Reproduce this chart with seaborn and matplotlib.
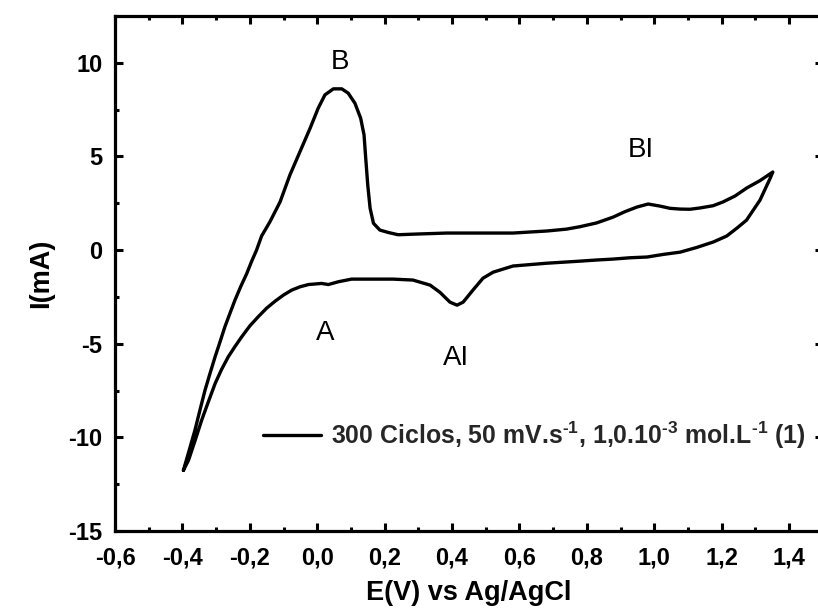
import matplotlib
matplotlib.use("Agg")
import matplotlib.pyplot as plt
import seaborn as sns
import pandas as pd
from matplotlib.ticker import FixedLocator, MultipleLocator

# ---- data (cyclic voltammogram, one full cycle) ----
E_forward = [-0.397, -0.380, -0.363, -0.348, -0.333, -0.318, -0.303, -0.288,
             -0.274, -0.259, -0.244, -0.227, -0.209, -0.195, -0.180, -0.165,
             -0.140, -0.110, -0.081, -0.051, -0.021, 0.003, 0.023, 0.048,
             0.073, 0.092, 0.112, 0.129, 0.139, 0.144, 0.150, 0.157, 0.167,
             0.186, 0.211, 0.240, 0.300, 0.385, 0.483, 0.581, 0.682, 0.740,
             0.780, 0.829, 0.878, 0.913, 0.949, 0.982, 1.017, 1.047, 1.077,
             1.106, 1.136, 1.175, 1.204, 1.240, 1.275, 1.314, 1.352]
I_forward = [-11.76, -10.70, -9.63, -8.55, -7.49, -6.58, -5.70, -4.88,
             -4.10, -3.38, -2.67, -1.95, -1.25, -0.62, 0.00, 0.75,
             1.52, 2.58, 4.01, 5.26, 6.51, 7.58, 8.29, 8.61,
             8.61, 8.38, 7.84, 7.04, 6.15, 4.90, 3.48, 2.23, 1.43,
             1.07, 0.94, 0.82, 0.86, 0.91, 0.91, 0.91, 1.02, 1.12,
             1.25, 1.45, 1.76, 2.05, 2.30, 2.46, 2.35, 2.23, 2.19,
             2.18, 2.25, 2.37, 2.57, 2.89, 3.32, 3.71, 4.17]

E_reverse = [1.344, 1.314, 1.274, 1.246, 1.215, 1.175, 1.126, 1.077, 1.027,
             0.979, 0.928, 0.878, 0.829, 0.780, 0.682, 0.581, 0.522, 0.492,
             0.462, 0.433, 0.415, 0.394, 0.364, 0.335, 0.284, 0.225, 0.172,
             0.102, 0.063, 0.033, 0.013, -0.026, -0.051, -0.076, -0.100,
             -0.125, -0.150, -0.175, -0.200, -0.224, -0.244, -0.264, -0.284,
             -0.303, -0.323, -0.343, -0.362, -0.382, -0.397]
I_reverse = [3.83, 2.67, 1.60, 1.18, 0.75, 0.43, 0.14, -0.11, -0.23,
             -0.37, -0.41, -0.48, -0.53, -0.59, -0.70, -0.85, -1.18, -1.50,
             -2.14, -2.78, -2.94, -2.78, -2.25, -1.87, -1.60, -1.55, -1.55,
             -1.55, -1.69, -1.84, -1.78, -1.84, -1.96, -2.14, -2.40,
             -2.73, -3.10, -3.56, -4.05, -4.63, -5.15, -5.70, -6.38,
             -7.13, -8.10, -9.09, -10.15, -11.23, -11.76]

x_ticks = [-0.6, -0.4, -0.2, 0.0, 0.2, 0.4, 0.6, 0.8, 1.0, 1.2, 1.4]
x_tick_labels = ["-0,6", "-0,4", "-0,2", "0,0", "0,2", "0,4", "0,6", "0,8",
                 "1,0", "1,2", "1,4"]
y_ticks = [-15, -10, -5, 0, 5, 10]
y_tick_labels = ["-15", "-10", "-5", "0", "5", "10"]

peak_labels = ["B", "BI", "A", "AI"]
peak_E = [0.068, 0.961, 0.023, 0.412]
peak_I = [10.05, 5.35, -4.44, -5.78]

series_label = (r"300 Ciclos, 50 mV.s$^{\text{-1}}$, 1,0.10$^{\text{-3}}$ "
                r"mol.L$^{\text{-1}}$ (1)")
x_label = "E(V) vs Ag/AgCl"
y_label = "I(mA)"

# ---- style ----
sns.set_theme(style="ticks")
plt.rcParams["font.family"] = ["Liberation Sans", "DejaVu Sans"]
plt.rcParams["mathtext.fontset"] = "custom"
plt.rcParams["mathtext.rm"] = "Liberation Sans:bold"
plt.rcParams["mathtext.bf"] = "Liberation Sans:bold"
plt.rcParams["mathtext.it"] = "Liberation Sans:bold"
plt.rcParams["mathtext.sf"] = "Liberation Sans:bold"
plt.rcParams["mathtext.default"] = "rm"

fig = plt.figure(figsize=(8.18, 6.12), dpi=100)
ax = fig.add_axes([115 / 818, 81 / 612, 707.7 / 818, 515 / 612])

df = pd.DataFrame({"E": E_forward + E_reverse, "I": I_forward + I_reverse})
sns.lineplot(data=df, x="E", y="I", sort=False, estimator=None, color="black",
             lw=2.4, label=series_label, ax=ax)
for ln in ax.get_lines():
    ln.set_solid_joinstyle("round")

ax.set_xlim(-0.6, 1.5)
ax.set_ylim(-15, 12.5)

ax.xaxis.set_major_locator(FixedLocator(x_ticks))
ax.set_xticklabels(x_tick_labels)
ax.xaxis.set_minor_locator(MultipleLocator(0.1))
ax.yaxis.set_major_locator(FixedLocator(y_ticks))
ax.set_yticklabels(y_tick_labels)
ax.yaxis.set_minor_locator(MultipleLocator(2.5))

for lab in ax.get_xticklabels() + ax.get_yticklabels():
    lab.set_fontweight("bold")

ax.tick_params(which="both", direction="in", top=True, right=True,
               color="black", labelcolor="black")
ax.tick_params(which="major", length=6, width=2.2, labelsize=17)
ax.tick_params(which="minor", length=3, width=2.2)
ax.tick_params(axis="x", which="major", pad=11)
ax.tick_params(axis="y", which="major", pad=9)

for sp in ax.spines.values():
    sp.set_linewidth(2.3)
    sp.set_color("black")

ax.set_xlabel(x_label, fontsize=19.5, fontweight="bold", labelpad=8, color="black")
ax.set_ylabel(y_label, fontsize=19.5, fontweight="bold", labelpad=10, color="black")

for lab, xe, yi in zip(peak_labels, peak_E, peak_I):
    ax.text(xe, yi, lab, ha="center", va="center", fontsize=20, color="black")

leg = ax.legend(frameon=False, loc="center left", bbox_to_anchor=(0.2091, 0.1864),
                borderpad=0, borderaxespad=0, handlelength=2.35, handletextpad=0.4,
                prop={"weight": "bold", "size": 17.9})

fig.savefig("out.png", dpi=100)
